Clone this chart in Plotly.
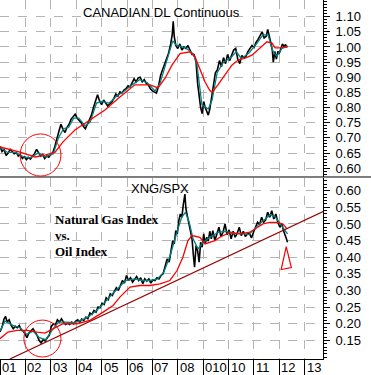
import plotly.graph_objects as go

# ---------------- data ----------------
# Top panel: CANADIAN DL Continuous
cad_x = [2001.00, 2001.08, 2001.16, 2001.24, 2001.32, 2001.40, 2001.48, 2001.56, 2001.64, 2001.72,
         2001.80, 2001.88, 2001.96, 2002.04, 2002.12, 2002.20, 2002.28, 2002.36, 2002.44, 2002.52,
         2002.60, 2002.68, 2002.76, 2002.84, 2002.92, 2003.00, 2003.08, 2003.16, 2003.24, 2003.32,
         2003.40, 2003.48, 2003.56, 2003.64, 2003.72, 2003.80, 2003.88, 2003.96, 2004.04, 2004.12,
         2004.20, 2004.28, 2004.36, 2004.44, 2004.52, 2004.60, 2004.68, 2004.76, 2004.84, 2004.92,
         2005.00, 2005.08, 2005.16, 2005.24, 2005.32, 2005.40, 2005.48, 2005.56, 2005.64, 2005.72,
         2005.80, 2005.88, 2005.96, 2006.04, 2006.12, 2006.20, 2006.28, 2006.36, 2006.44, 2006.52,
         2006.60, 2006.68, 2006.76, 2006.84, 2006.92, 2007.00, 2007.08, 2007.16, 2007.24, 2007.32,
         2007.40, 2007.48, 2007.56, 2007.64, 2007.72, 2007.78, 2007.82, 2007.86, 2007.92, 2008.00,
         2008.08, 2008.16, 2008.24, 2008.32, 2008.40, 2008.48, 2008.56, 2008.64, 2008.72, 2008.78,
         2008.84, 2008.90, 2008.96, 2009.02, 2009.08, 2009.14, 2009.20, 2009.26, 2009.32, 2009.40,
         2009.48, 2009.56, 2009.64, 2009.72, 2009.80, 2009.88, 2009.96, 2010.04, 2010.12, 2010.20,
         2010.28, 2010.36, 2010.44, 2010.52, 2010.60, 2010.68, 2010.76, 2010.84, 2010.92, 2011.00,
         2011.08, 2011.16, 2011.24, 2011.32, 2011.40, 2011.48, 2011.54, 2011.60, 2011.66, 2011.72,
         2011.76, 2011.82, 2011.88, 2011.94, 2012.00, 2012.06, 2012.12, 2012.18, 2012.24, 2012.30]
cad_y = [0.672, 0.655, 0.662, 0.642, 0.650, 0.662, 0.655, 0.648, 0.652, 0.640,
         0.645, 0.632, 0.638, 0.628, 0.636, 0.630, 0.640, 0.648, 0.662, 0.650,
         0.640, 0.645, 0.632, 0.640, 0.636, 0.645, 0.652, 0.672, 0.700, 0.722,
         0.745, 0.728, 0.718, 0.735, 0.745, 0.762, 0.770, 0.778, 0.765, 0.758,
         0.750, 0.738, 0.730, 0.745, 0.758, 0.775, 0.800, 0.825, 0.842, 0.822,
         0.810, 0.825, 0.815, 0.805, 0.812, 0.818, 0.830, 0.845, 0.838, 0.852,
         0.848, 0.858, 0.862, 0.872, 0.868, 0.880, 0.895, 0.885, 0.898, 0.900,
         0.885, 0.892, 0.880, 0.875, 0.862, 0.855, 0.852, 0.848, 0.870, 0.905,
         0.925, 0.942, 0.965, 0.980, 1.010, 1.040, 1.085, 1.035, 1.005, 0.995,
         1.010, 0.990, 1.000, 0.995, 1.005, 0.990, 0.975, 0.975, 0.950, 0.880,
         0.830, 0.800, 0.780, 0.820, 0.800, 0.790, 0.775, 0.795, 0.830, 0.870,
         0.915, 0.925, 0.955, 0.935, 0.965, 0.945, 0.975, 0.955, 0.970, 0.990,
         0.995, 0.960, 0.945, 0.972, 0.965, 0.968, 0.985, 0.995, 1.005, 0.998,
         1.015, 1.025, 1.040, 1.050, 1.030, 1.035, 1.058, 1.030, 1.015, 0.990,
         0.950, 0.985, 0.960, 0.985, 0.980, 0.995, 1.010, 1.000, 1.008, 0.998]

cad_fast_x = [2001.00, 2001.30, 2001.60, 2001.90, 2002.20, 2002.50, 2002.80, 2003.10, 2003.30, 2003.50,
              2003.70, 2003.90, 2004.10, 2004.35, 2004.55, 2004.80, 2005.00, 2005.30, 2005.60, 2005.90,
              2006.20, 2006.50, 2006.80, 2007.10, 2007.30, 2007.55, 2007.80, 2007.95, 2008.30, 2008.60,
              2008.75, 2008.95, 2009.20, 2009.35, 2009.55, 2009.80, 2010.10, 2010.30, 2010.50, 2010.80,
              2011.10, 2011.35, 2011.55, 2011.75, 2011.90, 2012.10, 2012.30]
cad_fast_y = [0.668, 0.652, 0.652, 0.638, 0.634, 0.650, 0.638, 0.648, 0.700, 0.730,
              0.735, 0.765, 0.765, 0.740, 0.752, 0.815, 0.820, 0.815, 0.838, 0.855,
              0.875, 0.892, 0.882, 0.855, 0.880, 0.950, 1.020, 1.005, 0.998, 0.978,
              0.945, 0.810, 0.795, 0.825, 0.915, 0.950, 0.965, 0.985, 0.962, 0.980,
              1.010, 1.040, 1.040, 0.985, 0.970, 0.995, 1.000]

cad_slow_x = [2001.00, 2001.79, 2002.38, 2002.77, 2003.17, 2003.48, 2003.95, 2004.54, 2005.13, 2005.72,
              2006.31, 2006.91, 2007.22, 2007.50, 2007.77, 2008.09, 2008.48, 2008.68, 2008.87, 2009.07,
              2009.25, 2009.35, 2009.58, 2009.86, 2010.13, 2010.37, 2010.65, 2010.92, 2011.16, 2011.51,
              2011.71, 2011.83, 2012.02, 2012.22, 2012.34]
cad_slow_y = [0.670, 0.653, 0.637, 0.643, 0.653, 0.687, 0.726, 0.760, 0.792, 0.835,
              0.875, 0.875, 0.865, 0.897, 0.940, 0.978, 0.984, 0.967, 0.925, 0.885,
              0.858, 0.850, 0.875, 0.908, 0.940, 0.957, 0.963, 0.973, 0.990, 1.017,
              1.013, 0.997, 0.997, 1.000, 1.003]

# Bottom panel: XNG/SPX
xng_x = [2001.00, 2001.08, 2001.16, 2001.22, 2001.28, 2001.36, 2001.44, 2001.52, 2001.60, 2001.68,
         2001.76, 2001.84, 2001.92, 2002.00, 2002.06, 2002.14, 2002.22, 2002.30, 2002.38, 2002.46,
         2002.54, 2002.62, 2002.70, 2002.78, 2002.86, 2002.94, 2003.02, 2003.10, 2003.18, 2003.26,
         2003.34, 2003.42, 2003.50, 2003.58, 2003.66, 2003.74, 2003.82, 2003.90, 2003.98, 2004.06,
         2004.14, 2004.22, 2004.30, 2004.38, 2004.46, 2004.54, 2004.62, 2004.70, 2004.78, 2004.86,
         2004.94, 2005.02, 2005.10, 2005.18, 2005.26, 2005.34, 2005.42, 2005.50, 2005.58, 2005.66,
         2005.74, 2005.82, 2005.90, 2005.98, 2006.06, 2006.14, 2006.22, 2006.30, 2006.38, 2006.46,
         2006.54, 2006.62, 2006.70, 2006.78, 2006.86, 2006.94, 2007.02, 2007.10, 2007.18, 2007.26,
         2007.34, 2007.42, 2007.50, 2007.58, 2007.66, 2007.72, 2007.80, 2007.86, 2007.92, 2007.98,
         2008.04, 2008.10, 2008.16, 2008.22, 2008.28, 2008.32, 2008.38, 2008.44, 2008.50, 2008.56,
         2008.62, 2008.66, 2008.72, 2008.78, 2008.84, 2008.90, 2008.96, 2009.02, 2009.08, 2009.14,
         2009.20, 2009.26, 2009.32, 2009.38, 2009.46, 2009.54, 2009.62, 2009.70, 2009.78, 2009.86,
         2009.94, 2010.02, 2010.10, 2010.18, 2010.26, 2010.34, 2010.42, 2010.50, 2010.58, 2010.66,
         2010.74, 2010.82, 2010.90, 2010.98, 2011.06, 2011.14, 2011.22, 2011.30, 2011.38, 2011.46,
         2011.54, 2011.62, 2011.70, 2011.78, 2011.86, 2011.94, 2012.02, 2012.10, 2012.16, 2012.22,
         2012.28, 2012.32]
xng_y = [0.175, 0.190, 0.215, 0.222, 0.205, 0.212, 0.195, 0.185, 0.192, 0.188,
         0.195, 0.180, 0.178, 0.165, 0.158, 0.172, 0.178, 0.185, 0.175, 0.165,
         0.150, 0.142, 0.152, 0.148, 0.158, 0.165, 0.192, 0.200, 0.196, 0.212,
         0.205, 0.215, 0.205, 0.198, 0.202, 0.198, 0.205, 0.200, 0.208, 0.212,
         0.205, 0.214, 0.210, 0.220, 0.215, 0.232, 0.228, 0.240, 0.235, 0.250,
         0.248, 0.262, 0.258, 0.278, 0.272, 0.290, 0.285, 0.298, 0.308, 0.300,
         0.318, 0.330, 0.322, 0.345, 0.330, 0.338, 0.325, 0.335, 0.342, 0.330,
         0.338, 0.320, 0.335, 0.328, 0.335, 0.322, 0.332, 0.330, 0.338, 0.335,
         0.345, 0.350, 0.370, 0.395, 0.385, 0.420, 0.450, 0.440, 0.480, 0.470,
         0.510, 0.530, 0.520, 0.560, 0.590, 0.545, 0.520, 0.500, 0.470, 0.455,
         0.400, 0.370, 0.435, 0.420, 0.385, 0.445, 0.430, 0.470, 0.440, 0.460,
         0.448, 0.478, 0.455, 0.480, 0.450, 0.470, 0.490, 0.462, 0.475, 0.500,
         0.468, 0.482, 0.455, 0.478, 0.460, 0.472, 0.490, 0.465, 0.478, 0.462,
         0.470, 0.472, 0.458, 0.475, 0.490, 0.505, 0.498, 0.520, 0.505, 0.512,
         0.535, 0.520, 0.540, 0.515, 0.530, 0.505, 0.490, 0.500, 0.480, 0.470,
         0.455, 0.445]

xng_fast_x = [2001.00, 2001.20, 2001.50, 2001.80, 2002.05, 2002.30, 2002.55, 2002.80, 2003.05, 2003.30,
              2003.60, 2003.90, 2004.20, 2004.50, 2004.80, 2005.10, 2005.40, 2005.70, 2005.95, 2006.30,
              2006.60, 2006.90, 2007.20, 2007.45, 2007.70, 2007.95, 2008.15, 2008.30, 2008.45, 2008.60,
              2008.80, 2009.00, 2009.30, 2009.60, 2009.90, 2010.20, 2010.50, 2010.80, 2011.10, 2011.40,
              2011.65, 2011.85, 2012.05, 2012.20, 2012.32]
xng_fast_y = [0.178, 0.208, 0.195, 0.188, 0.168, 0.178, 0.158, 0.152, 0.180, 0.205,
              0.205, 0.203, 0.210, 0.222, 0.240, 0.262, 0.288, 0.310, 0.330, 0.335,
              0.330, 0.330, 0.335, 0.355, 0.405, 0.470, 0.520, 0.535, 0.505, 0.455,
              0.425, 0.445, 0.462, 0.475, 0.478, 0.470, 0.472, 0.468, 0.492, 0.512,
              0.528, 0.520, 0.500, 0.485, 0.470]

xng_slow_x = [2001.00, 2001.31, 2001.67, 2002.06, 2002.46, 2002.77, 2002.97, 2003.24, 2003.48, 2004.03,
              2004.54, 2005.06, 2005.45, 2005.72, 2006.12, 2006.51, 2006.91, 2007.30, 2007.69, 2007.97,
              2008.20, 2008.40, 2008.56, 2008.87, 2009.07, 2009.46, 2009.66, 2010.06, 2010.45, 2010.84,
              2011.12, 2011.35, 2011.63, 2011.91, 2012.14, 2012.30]
xng_slow_y = [0.155, 0.175, 0.180, 0.180, 0.175, 0.172, 0.180, 0.190, 0.200, 0.200,
              0.210, 0.235, 0.255, 0.280, 0.310, 0.315, 0.315, 0.320, 0.330, 0.360,
              0.400, 0.450, 0.465, 0.460, 0.440, 0.450, 0.460, 0.475, 0.470, 0.475,
              0.490, 0.500, 0.505, 0.505, 0.500, 0.485]

# Trend line, circles, triangle (data coordinates)
trend_x = [2001.39, 2013.72]
trend_y = [0.094, 0.537]
circle_top_x = [2001.79, 2003.40]
circle_top_y = [0.574, 0.713]
circle_bot_x = [2001.94, 2003.40]
circle_bot_y = [0.100, 0.211]
tri_x = [2012.27, 2012.07, 2012.47]
tri_y = [0.432, 0.363, 0.369]

year_ticks = [2001, 2002, 2003, 2004, 2005, 2006, 2007, 2008, 2009, 2010, 2011, 2012, 2013]
year_labels = ["01", "02", "03", "04", "05", "06", "07", "08", "010", "10", "11", "12", "13"]
top_ticks = [0.60, 0.65, 0.70, 0.75, 0.80, 0.85, 0.90, 0.95, 1.00, 1.05, 1.10]
top_labels = ["0.60", "0.65", "0.70", "0.75", "0.80", "0.85", "0.90", "0.95", "1.00", "1.05", "1.10"]
bot_ticks = [0.15, 0.20, 0.25, 0.30, 0.35, 0.40, 0.45, 0.50, 0.55, 0.60]
bot_labels = ["0.15", "0.20", "0.25", "0.30", "0.35", "0.40", "0.45", "0.50", "0.55", "0.60"]

# ---------------- figure ----------------
BLACK = "#000000"
TEAL = "#008080"
RED = "#FF0000"
MAROON = "#990000"
GRID = "#b4b4b4"
SANS = "Liberation Sans, Arial, sans-serif"
SERIF = "Liberation Serif, Times New Roman, serif"

fig = go.Figure()

def add_series(xs, ys, color, width, xa, ya):
    fig.add_trace(go.Scatter(x=xs, y=ys, mode="lines", line=dict(color=color, width=width),
                             xaxis=xa, yaxis=ya, showlegend=False, hoverinfo="skip"))

add_series(cad_x, cad_y, BLACK, 1.6, "x2", "y2")
add_series(cad_fast_x, cad_fast_y, TEAL, 1.3, "x2", "y2")
add_series(cad_slow_x, cad_slow_y, RED, 1.3, "x2", "y2")
add_series(xng_x, xng_y, BLACK, 1.6, "x", "y")
add_series(xng_fast_x, xng_fast_y, TEAL, 1.3, "x", "y")
add_series(xng_slow_x, xng_slow_y, RED, 1.3, "x", "y")

x_range = [2001.0, 2013.717]
top_dom = [0.507, 1.0]
bot_dom = [0.0, 0.505]

yaxis_common = dict(side="right", showline=True, linecolor=BLACK, linewidth=1,
                    ticks="outside", ticklen=6, tickcolor=BLACK,
                    ticklabelstandoff=3,
                    tickfont=dict(family=SANS, size=13, color=BLACK),
                    showgrid=True, gridcolor=GRID, griddash="dash", gridwidth=1,
                    zeroline=False, fixedrange=True,
                    minor=dict(dtick=0.01, tick0=0, ticks="outside", ticklen=3,
                               tickcolor=BLACK, showgrid=False))

fig.update_layout(
    width=371, height=375,
    margin=dict(l=0, r=48, t=0, b=16),
    paper_bgcolor="white", plot_bgcolor="white",
    showlegend=False,
    xaxis=dict(domain=[0, 1], range=x_range, anchor="y",
               tickmode="array", tickvals=year_ticks, ticks="outside", ticklen=15,
               tickcolor=BLACK, showticklabels=False,
               showgrid=True, gridcolor=GRID, griddash="dash", gridwidth=1,
               showline=True, linecolor=BLACK, linewidth=1, zeroline=False, fixedrange=True),
    xaxis2=dict(domain=[0, 1], range=x_range, anchor="y2", matches="x",
                tickmode="array", tickvals=year_ticks, ticks="", showticklabels=False,
                showgrid=True, gridcolor=GRID, griddash="dash", gridwidth=1,
                showline=False, zeroline=False),
    yaxis=dict(domain=bot_dom, range=[0.094, 0.639], anchor="x",
               tickmode="array", tickvals=bot_ticks, ticktext=bot_labels, **yaxis_common),
    yaxis2=dict(domain=top_dom, range=[0.571, 1.155], anchor="x2",
                tickmode="array", tickvals=top_ticks, ticktext=top_labels, **yaxis_common),
)

shapes = [
    # separator between panels (extends across full width)
    dict(type="line", xref="paper", yref="paper", x0=0, x1=371 / 323, y0=top_dom[0], y1=top_dom[0],
         line=dict(color=BLACK, width=1)),
    dict(type="line", xref="x", yref="y", x0=trend_x[0], x1=trend_x[1], y0=trend_y[0], y1=trend_y[1],
         line=dict(color=MAROON, width=1.2)),
    dict(type="circle", xref="x2", yref="y2", x0=circle_top_x[0], x1=circle_top_x[1],
         y0=circle_top_y[0], y1=circle_top_y[1], line=dict(color=RED, width=1)),
    dict(type="circle", xref="x", yref="y", x0=circle_bot_x[0], x1=circle_bot_x[1],
         y0=circle_bot_y[0], y1=circle_bot_y[1], line=dict(color=RED, width=1)),
    dict(type="path", xref="x", yref="y",
         path=f"M {tri_x[0]},{tri_y[0]} L {tri_x[1]},{tri_y[1]} L {tri_x[2]},{tri_y[2]} Z",
         line=dict(color=RED, width=1.2)),
]
fig.update_layout(shapes=shapes)

annotations = [
    dict(text="CANADIAN DL Continuous", xref="paper", yref="paper", x=161 / 323, y=1 - 12 / 359,
         xanchor="center", yanchor="middle", showarrow=False,
         font=dict(family=SANS, size=13, color=BLACK)),
    dict(text="XNG/SPX", xref="paper", yref="paper", x=160 / 323, y=1 - 188 / 359,
         xanchor="center", yanchor="middle", showarrow=False,
         font=dict(family=SANS, size=13, color=BLACK)),
    dict(text="<b>Natural Gas Index</b>", xref="paper", yref="paper", x=53 / 323, y=1 - 219 / 359,
         xanchor="left", yanchor="middle", showarrow=False,
         font=dict(family=SERIF, size=13, color=BLACK)),
    dict(text="<b>vs.</b>", xref="paper", yref="paper", x=53 / 323, y=1 - 236 / 359,
         xanchor="left", yanchor="middle", showarrow=False,
         font=dict(family=SERIF, size=13, color=BLACK)),
    dict(text="<b>Oil Index</b>", xref="paper", yref="paper", x=53 / 323, y=1 - 252 / 359,
         xanchor="left", yanchor="middle", showarrow=False,
         font=dict(family=SERIF, size=13, color=BLACK)),
]
for yr, lab in zip(year_ticks, year_labels):
    annotations.append(dict(text=lab, xref="x", yref="paper", x=yr, y=-8 / 359,
                            xanchor="left", yanchor="middle", xshift=0,
                            showarrow=False, font=dict(family=SANS, size=13, color=BLACK)))
fig.update_layout(annotations=annotations)

fig.write_html("out.html", config={"displayModeBar": False},
               post_script="document.body.style.margin='0px';document.body.style.overflow='hidden';")
